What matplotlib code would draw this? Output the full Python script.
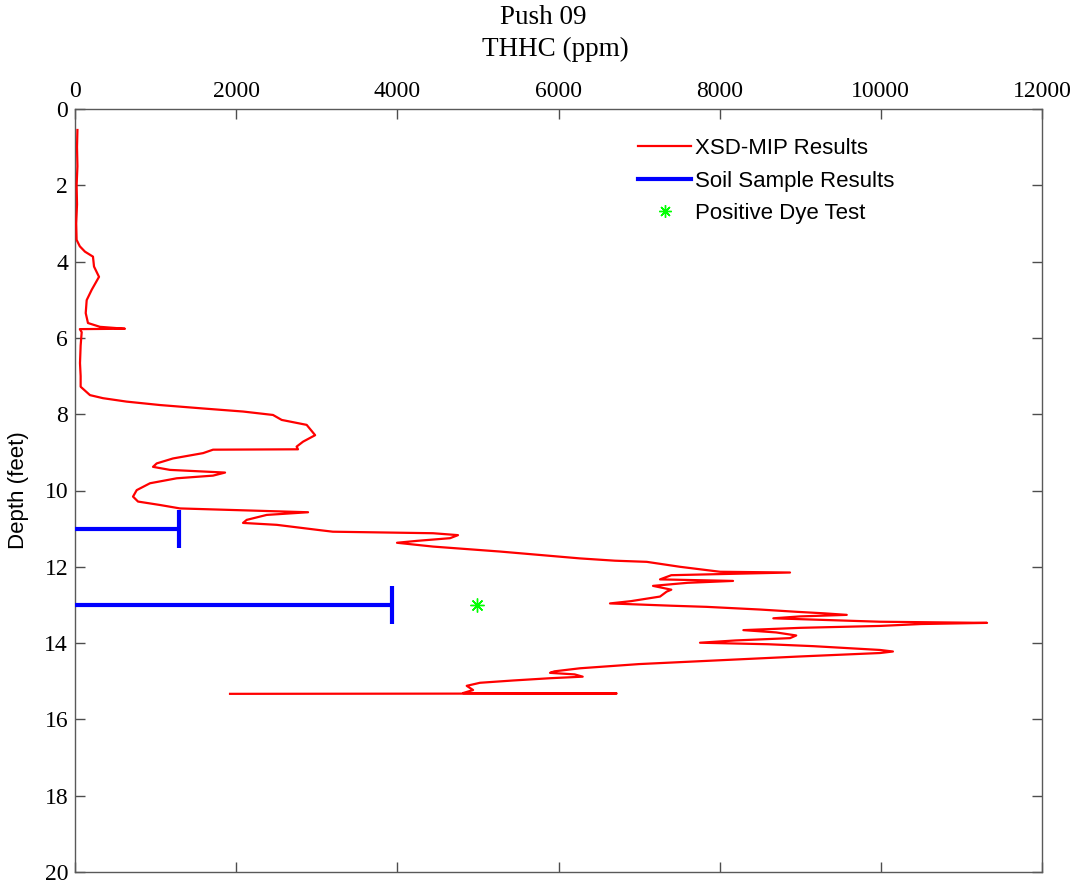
import matplotlib
matplotlib.use("Agg")
import matplotlib.pyplot as plt
from matplotlib.lines import Line2D

# ---- data ----
mip_depth = [0.55, 1.0, 1.5, 2.0, 2.5, 3.0, 3.43, 3.6, 3.74, 3.87, 4.13, 4.40, 4.74, 5.01,
             5.35, 5.61, 5.71, 5.76, 5.77, 5.85, 6.2, 6.66, 7.0, 7.28, 7.50, 7.58, 7.67,
             7.76, 7.85, 7.93, 8.02, 8.15, 8.28, 8.55, 8.72, 8.85, 8.92, 8.93, 9.02, 9.16,
             9.29, 9.38, 9.46, 9.53, 9.61, 9.68, 9.81, 9.99, 10.16, 10.29, 10.38, 10.47,
             10.57, 10.64, 10.77, 10.85, 10.90, 11.04, 11.08, 11.12, 11.17, 11.25, 11.32,
             11.37, 11.47, 11.60, 11.78, 11.84, 11.87, 12.00, 12.13, 12.15, 12.22, 12.33,
             12.37, 12.42, 12.50, 12.60, 12.65, 12.78, 12.90, 12.96, 13.02, 13.05, 13.12,
             13.18, 13.22, 13.26, 13.30, 13.35, 13.40, 13.44, 13.47, 13.50, 13.55, 13.60,
             13.66, 13.72, 13.80, 13.87, 13.93, 13.99, 14.03, 14.08, 14.18, 14.22, 14.26,
             14.35, 14.45, 14.55, 14.66, 14.74, 14.78, 14.82, 14.88, 14.92, 14.98, 15.04,
             15.12, 15.23, 15.31, 15.32, 15.33]
mip_thhc = [30, 25, 30, 20, 25, 15, 20, 60, 124, 223, 236, 298, 207, 145,
            133, 161, 310, 620, 60, 83, 70, 62, 70, 70, 186, 347, 640,
            1055, 1590, 2085, 2457, 2565, 2875, 2980, 2830, 2750, 2767, 1713, 1590, 1216,
            1014, 968, 1179, 1862, 1713, 1262, 931, 766, 720, 782, 1055, 1303,
            2892, 2379, 2131, 2085, 2503, 3040, 3200, 4443, 4753, 4654, 4244,
            3996, 4443, 5274, 6267, 6700, 7095, 7508, 8004, 8873, 7400, 7260,
            8166, 7600, 7173, 7400, 7343, 7260, 6900, 6639, 7400, 7839, 8500,
            8956, 9300, 9577, 9000, 8666, 9400, 9990, 11318, 10500, 9990, 9000,
            8294, 8700, 8950, 8873, 8200, 7756, 8600, 9160, 9990, 10150, 9990,
            9000, 8000, 7000, 6267, 5950, 5895, 6200, 6300, 5900, 5436, 5026,
            4861, 4940, 4815, 6722, 1924]

soil_depth = [11.0, 13.0]
soil_thhc = [1290, 3930]

dye_depth = [13.0]
dye_thhc = [4990]

x_ticks = [0, 2000, 4000, 6000, 8000, 10000, 12000]
y_ticks = [0, 2, 4, 6, 8, 10, 12, 14, 16, 18, 20]

# ---- figure ----
fig = plt.figure(figsize=(10.81, 8.86), dpi=100)
ax = fig.add_axes([75 / 1081, 1 - 872 / 886, (1042 - 75) / 1081, (872 - 109) / 886])

ax.plot(mip_thhc, mip_depth, color=(1, 0, 0), lw=1.6, zorder=3)

cap = 0.5
ax.hlines(soil_depth, 0, soil_thhc, color=(0, 0, 1), lw=3, zorder=4)
ax.vlines(soil_thhc, [d - cap for d in soil_depth], [d + cap for d in soil_depth],
          color=(0, 0, 1), lw=3, zorder=4)

ax.plot(dye_thhc, dye_depth, linestyle='none', marker=(8, 2, 0), markersize=10,
        markeredgewidth=1, color=(0, 1, 0), zorder=5)

ax.set_xlim(0, 12000)
ax.set_ylim(20, 0)
ax.set_xticks(x_ticks)
ax.set_yticks(y_ticks)
ax.tick_params(axis='both', which='both', direction='in', length=7, width=1,
               color='0.3', top=True, bottom=True, left=True, right=True,
               labeltop=True, labelbottom=False, labelsize=17, pad=5)
for lab in ax.get_xticklabels() + ax.get_yticklabels():
    lab.set_fontfamily('Liberation Serif')
for sp in ax.spines.values():
    sp.set_color('0.35')
    sp.set_linewidth(1)

ax.set_ylabel('Depth (feet)', fontfamily='Liberation Sans', fontsize=16)
ax.yaxis.set_label_coords(-46 / 967, 0.5)

fig.text(543 / 1081, 1 - 18 / 886, 'Push 09', ha='center', va='center',
         fontfamily='Liberation Serif', fontsize=19.5)
fig.text(555 / 1081, 1 - 49 / 886, 'THHC (ppm)', ha='center', va='center',
         fontfamily='Liberation Serif', fontsize=19.5)

handles = [Line2D([], [], color=(1, 0, 0), lw=1.6),
           Line2D([], [], color=(0, 0, 1), lw=3),
           Line2D([], [], linestyle='none', marker=(8, 2, 0), markersize=9,
                  markeredgewidth=1, color=(0, 1, 0))]
labels = ['XSD-MIP Results', 'Soil Sample Results', 'Positive Dye Test']
leg = fig.legend(handles, labels, loc='upper left',
                 bbox_to_anchor=(638 / 1081, 1 - 138 / 886),
                 frameon=False, handlelength=2.4, handletextpad=0.15,
                 labelspacing=0.52, borderpad=0, borderaxespad=0,
                 prop={'family': 'Liberation Sans', 'size': 16})

fig.savefig('out.png', dpi=100)
